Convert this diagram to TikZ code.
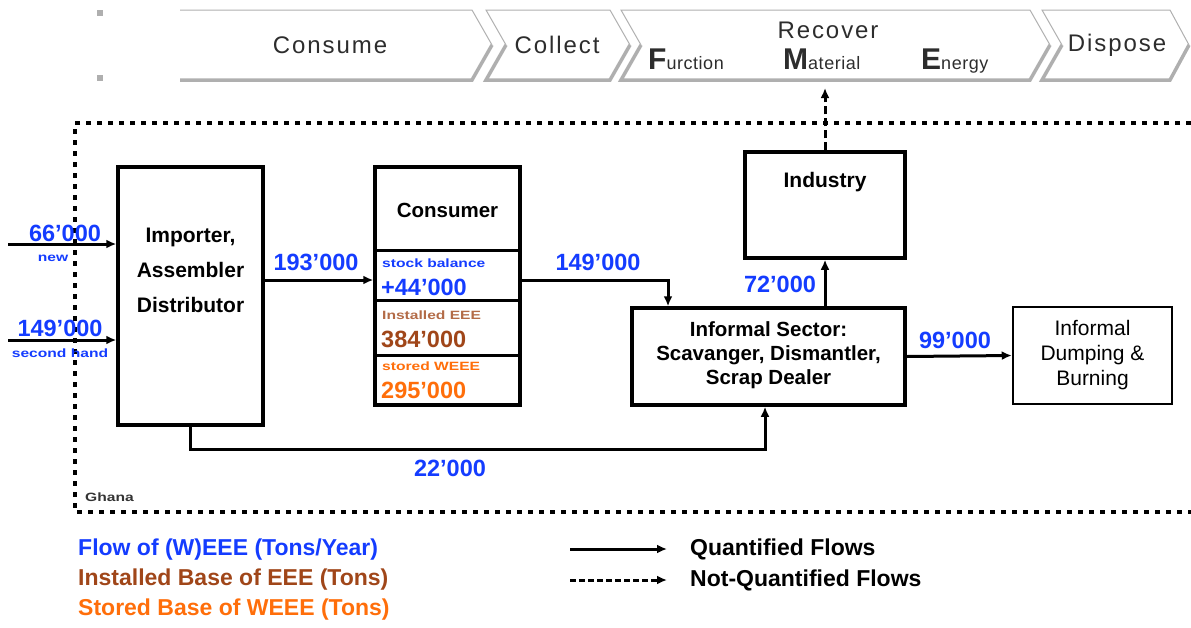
\documentclass[tikz,border=0pt]{standalone}
\usepackage{fontspec}
\setmainfont{Liberation Sans}
\usetikzlibrary{arrows.meta}
\definecolor{flowblue}{RGB}{20,60,255}
\definecolor{eeebrown}{RGB}{160,70,25}
\definecolor{weeeorange}{RGB}{255,110,10}
\definecolor{bandgray}{RGB}{175,175,175}
\definecolor{bandtext}{RGB}{45,45,45}
\newcommand\subtxt{\fontsize{18}{18}\selectfont\addfontfeature{LetterSpace=3}}
\newcommand\bigletter{\bfseries\fontsize{30}{30}\selectfont}
\tikzset{
  blk/.style={draw, line width=3.5pt, inner sep=0pt},
  subbox/.style={draw, line width=3pt, inner sep=0pt, minimum width=145pt},
  flow/.style={line width=3pt, -{Latex[length=10pt,width=9pt]}},
  nqflow/.style={line width=3pt, dash pattern=on 8pt off 4pt, -{Latex[length=10pt,width=9pt]}},
  boundary/.style={line width=4pt, dash pattern=on 5pt off 6pt},
  lbl/.style={font=\bfseries\fontsize{21}{35}\selectfont, align=center, inner sep=0pt},
  num/.style={text=flowblue, font=\bfseries\fontsize{23.5}{23.5}\selectfont, inner sep=0pt},
  small/.style={font=\bfseries\fontsize{12}{12}\selectfont\addfontfeature{FakeStretch=1.3}, inner sep=0pt},
  band/.style={text=bandtext, font=\fontsize{24}{24}\selectfont\addfontfeature{LetterSpace=8}, inner sep=0pt},
  legend/.style={font=\bfseries\fontsize{23}{23}\selectfont, anchor=west, inner sep=0pt},
  chevtop/.style={bandgray, line width=1pt},
  chevbot/.style={bandgray, line width=3.5pt},
}
\begin{document}
\begin{tikzpicture}[x=1pt,y=-1pt]
\useasboundingbox (0,0) rectangle (1191,627);

% ---------- banner ----------
\fill[bandgray] (97,10) rectangle (103,16);
\fill[bandgray] (97,75) rectangle (103,81);
% Consume
\draw[chevtop] (180,10) -- (472,10) -- (492,45);
\draw[chevbot] (180,80) -- (472,80) -- (492,45);
% Collect
\draw[chevtop] (506,45) -- (486,10) -- (610,10) -- (630,45);
\draw[chevbot] (506,45) -- (486,80) -- (610,80) -- (630,45);
% Recover
\draw[chevtop] (641,45) -- (621,10) -- (1030,10) -- (1050,45);
\draw[chevbot] (641,45) -- (621,80) -- (1030,80) -- (1050,45);
% Dispose
\draw[chevtop] (1062,45) -- (1042,10) -- (1170,10) -- (1189,45);
\draw[chevbot] (1062,45) -- (1042,80) -- (1170,80) -- (1189,45);

\node[band] (tconsume) at (330,45) {Consume};
\node[band] (tcollect) at (557,45) {Collect};
\node[band] (trecover) at (828,30) {Recover};
\node[band] (tdispose) at (1117,45) {Dispose};
\node[anchor=base west, inner sep=0pt, text=bandtext] (tf) at (648,69)
  {{\bigletter F}{\subtxt urction}};
\node[anchor=base west, inner sep=0pt, text=bandtext] (tm) at (783,69)
  {{\bigletter M}{\subtxt aterial}};
\node[anchor=base west, inner sep=0pt, text=bandtext] (te) at (921,69)
  {{\bigletter E}{\subtxt nergy}};

% ---------- system boundary ----------
\draw[boundary] (1191,123) -- (75,123) -- (75,512) -- (1191,512);
\node[small, anchor=west, text=black!80] (ghana) at (85,497) {Ghana};

% ---------- boxes ----------
\node[blk, minimum width=145pt, minimum height=258pt] (imp) at (190.5,296) {};
\node[lbl] (imptext) at (190.5,270) {Importer,\\Assembler\\Distributor};

\node[blk, minimum width=145pt, minimum height=238pt] (cons) at (447.5,286) {};
\node[lbl, font=\bfseries\fontsize{20.5}{22}\selectfont] (constext) at (447.5,210) {Consumer};
\node[subbox, minimum height=50pt] (sb1) at (447.5,275) {};
\node[subbox, minimum height=55pt] (sb2) at (447.5,327.5) {};
\node[subbox, minimum height=50pt] (sb3) at (447.5,380) {};
\node[small, anchor=west, text=flowblue] (sb1a) at (382,263) {stock balance};
\node[num, anchor=west] (sb1b) at (381,287) {+44'000};
\node[small, anchor=west, text=eeebrown!80] (sb2a) at (382,315) {Installed EEE};
\node[num, anchor=west, text=eeebrown] (sb2b) at (381,339) {384'000};
\node[small, anchor=west, text=weeeorange] (sb3a) at (382,366) {stored WEEE};
\node[num, anchor=west, text=weeeorange] (sb3b) at (381,390) {295'000};

\node[blk, minimum width=160pt, minimum height=106pt] (ind) at (825,205) {};
\node[lbl] (indtext) at (825,182) {Industry};

\node[blk, minimum width=273pt, minimum height=97pt] (inf) at (768.5,356.5) {};
\node[lbl, font=\bfseries\fontsize{20.5}{24}\selectfont] (inftext) at (768.5,355)
  {Informal Sector:\\Scavanger, Dismantler,\\Scrap Dealer};

\node[draw, line width=2.5pt, minimum width=159pt, minimum height=97pt, inner sep=0pt] (dump) at (1092.5,355.5) {};
\node[align=center, inner sep=0pt, font=\fontsize{21}{25}\selectfont] (dumptext) at (1092.5,355)
  {Informal\\Dumping \&\\Burning};

% ---------- flows ----------
\coordinate (in1) at (8,244);
\coordinate (in2) at (8,340);
\coordinate (y280) at (0,280);
\coordinate (y449) at (0,449);
\coordinate (x668) at (668,0);
\coordinate (x765) at (765,0);
\coordinate (rec) at (825,88);

\draw[flow] (in1) -- (in1 -| imp.west);
\draw[flow] (in2) -- (in2 -| imp.west);
\draw[flow] (imp.east |- y280) -- (cons.west |- y280);
\draw[flow] (cons.east |- y280) -| (x668 |- inf.north);
\draw[flow] (inf.north -| ind.south) -- (ind.south);
\draw[nqflow] (ind.north) -- (rec);
\draw[flow] (inf.east) -- (dump.west);
\draw[flow] (imp.south) -- (imp.south |- y449) -| (x765 |- inf.south);

% ---------- flow labels ----------
\node[num] (n66) at (65,233) {66'000};
\node[small, text=flowblue] (nnew) at (53,258) {new};
\node[num] (n149a) at (60,328) {149'000};
\node[small, text=flowblue] (nsec) at (60,353) {second hand};
\node[num] (n193) at (316,262) {193'000};
\node[num] (n149b) at (598,262) {149'000};
\node[num] (n72) at (780,284) {72'000};
\node[num] (n99) at (955,340) {99'000};
\node[num] (n22) at (450,468) {22'000};

% ---------- legend ----------
\node[legend, text=flowblue] (lg1) at (78,550) {Flow of (W)EEE (Tons/Year)};
\node[legend, text=eeebrown] (lg2) at (78,580) {Installed Base of EEE (Tons)};
\node[legend, text=weeeorange] (lg3) at (78,610) {Stored Base of WEEE (Tons)};
\coordinate (la1) at (570,549);
\coordinate (la2) at (667,549);
\coordinate (lb1) at (570,580);
\coordinate (lb2) at (667,580);
\draw[flow] (la1) -- (la2);
\draw[line width=3pt, dash pattern=on 6pt off 3pt, -{Latex[length=10pt,width=9pt]}] (lb1) -- (lb2);
\node[legend] (lq) at (690,549) {Quantified Flows};
\node[legend] (lnq) at (690,580) {Not-Quantified Flows};
\end{tikzpicture}
\end{document}
